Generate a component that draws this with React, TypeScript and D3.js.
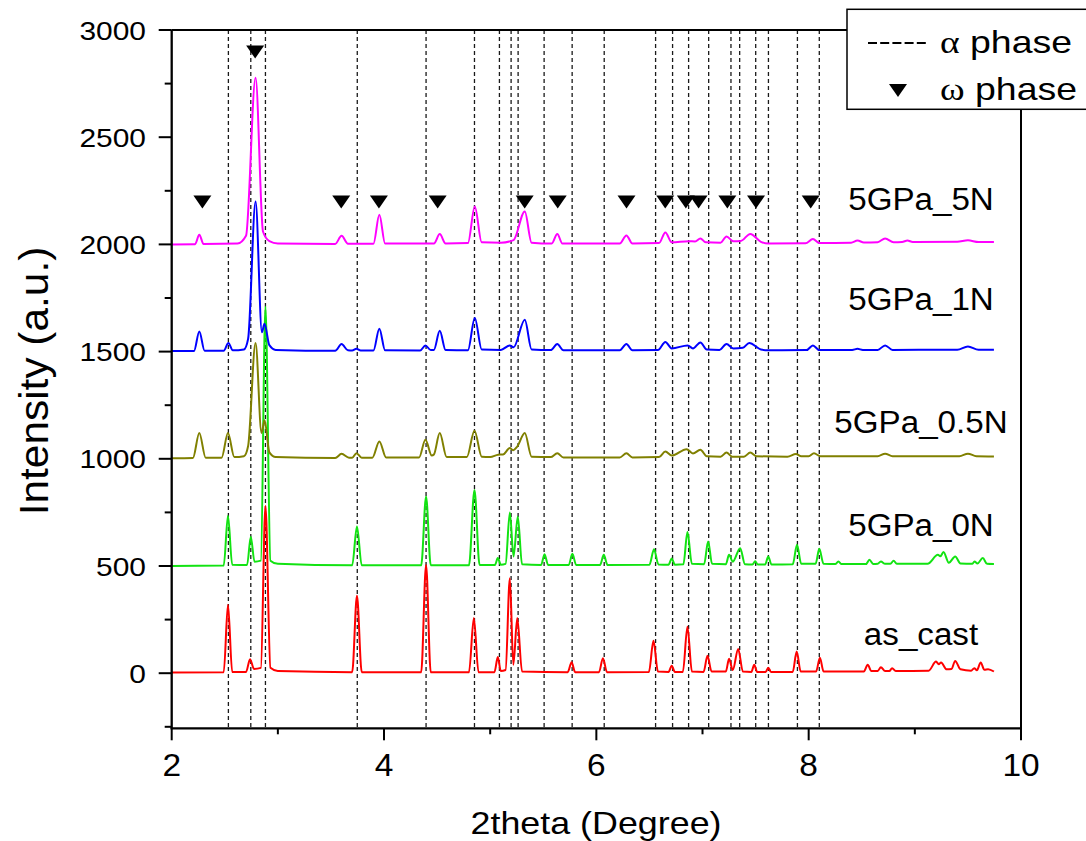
import React from 'react';
import * as d3 from 'd3';

// ---------------- data ----------------
const xTickValues = [2, 4, 6, 8, 10];
const yTickValues = [0, 500, 1000, 1500, 2000, 2500, 3000];

const seriesNames = ['as_cast', '5GPa_0N', '5GPa_0.5N', '5GPa_1N', '5GPa_5N'];
const seriesColors = ['#ff0000', '#12e312', '#808000', '#0000ff', '#ff00ff'];

const asCast: [number, number][] = [
  [2.0, 3], [2.49, 5], [2.53, 319], [2.57, 6], [2.70, 6], [2.738, 65], [2.775, 20], [2.84, 25],
  [2.883, 780], [2.93, 25], [3.0, 10], [3.70, 5], [3.745, 361], [3.79, 5], [4.35, 5], [4.396, 505],
  [4.44, 5], [4.80, 4], [4.846, 257], [4.89, 5], [5.04, 5], [5.072, 75], [5.10, 10], [5.145, 15],
  [5.185, 443], [5.218, 39], [5.255, 257], [5.30, 8], [5.73, 5], [5.767, 51], [5.80, 5], [6.025, 5],
  [6.062, 70], [6.10, 5], [6.495, 6], [6.538, 151], [6.58, 8], [6.68, 6], [6.71, 35], [6.74, 6],
  [6.815, 6], [6.858, 217], [6.90, 8], [7.01, 6], [7.047, 81], [7.085, 8], [7.22, 8], [7.25, 67],
  [7.285, 15], [7.336, 113], [7.38, 8], [7.46, 6], [7.487, 39], [7.515, 6], [7.595, 6], [7.619, 26],
  [7.645, 6], [7.85, 6], [7.887, 101], [7.925, 8], [8.07, 8], [8.106, 72], [8.14, 8], [8.52, 8],
  [8.556, 39], [8.59, 10], [8.65, 10], [8.68, 28], [8.72, 10], [8.76, 10], [8.786, 23], [8.82, 10],
  [9.13, 12], [9.2, 54], [9.225, 42], [9.247, 50], [9.30, 18], [9.345, 20], [9.38, 57], [9.43, 18],
  [9.53, 12], [9.56, 23], [9.585, 14], [9.62, 50], [9.655, 16], [9.69, 19], [9.745, 8],
];

const gpa0N: [number, number][] = [
  [2.0, 500], [2.49, 502], [2.53, 734], [2.57, 506], [2.71, 505], [2.745, 637], [2.78, 520], [2.84, 525],
  [2.883, 1710], [2.93, 525], [3.0, 510], [3.70, 503], [3.745, 684], [3.79, 503], [4.35, 503], [4.396, 824],
  [4.44, 504], [4.80, 503], [4.852, 855], [4.90, 505], [5.045, 505], [5.072, 537], [5.10, 506], [5.145, 510],
  [5.185, 750], [5.22, 544], [5.26, 731], [5.30, 508], [5.48, 505], [5.512, 555], [5.545, 505], [5.74, 505],
  [5.774, 557], [5.81, 505], [6.035, 505], [6.07, 552], [6.105, 505], [6.50, 506], [6.543, 578], [6.585, 507],
  [6.68, 506], [6.71, 535], [6.74, 506], [6.82, 508], [6.858, 658], [6.90, 510], [7.015, 508], [7.053, 614],
  [7.09, 510], [7.22, 508], [7.25, 552], [7.285, 520], [7.355, 583], [7.40, 508], [7.47, 507], [7.496, 522],
  [7.52, 507], [7.59, 507], [7.619, 544], [7.65, 507], [7.85, 508], [7.89, 599], [7.93, 510], [8.065, 510],
  [8.10, 580], [8.14, 510], [8.25, 509], [8.28, 521], [8.31, 509], [8.54, 509], [8.572, 529], [8.61, 509],
  [8.65, 510], [8.68, 521], [8.72, 510], [8.77, 510], [8.80, 525], [8.83, 510], [9.12, 510], [9.217, 552],
  [9.24, 545], [9.27, 565], [9.32, 515], [9.38, 544], [9.43, 512], [9.54, 510], [9.562, 521], [9.59, 512],
  [9.64, 537], [9.68, 510], [9.745, 509],
];

const gpa05N: [number, number][] = [
  [2.0, 1003], [2.20, 1004], [2.26, 1120], [2.32, 1005], [2.47, 1005], [2.53, 1120], [2.59, 1008],
  [2.68, 1012], [2.72, 1060], [2.79, 1540], [2.846, 1120], [2.875, 1180], [2.92, 1030], [2.98, 1008],
  [3.54, 1004], [3.60, 1023], [3.67, 1005], [3.70, 1005], [3.74, 1026], [3.79, 1005], [3.89, 1005],
  [3.956, 1081], [4.02, 1006], [4.33, 1006], [4.39, 1089], [4.45, 1015], [4.47, 1020], [4.525, 1120],
  [4.59, 1008], [4.78, 1008], [4.852, 1131], [4.92, 1010], [5.0, 1008], [5.075, 1019], [5.12, 1020],
  [5.185, 1050], [5.215, 1040], [5.255, 1057], [5.326, 1120], [5.39, 1010], [5.57, 1008], [5.632, 1026],
  [5.69, 1006], [6.22, 1006], [6.283, 1026], [6.34, 1006], [6.59, 1008], [6.65, 1034], [6.71, 1015],
  [6.85, 1045], [6.91, 1025], [6.98, 1042], [7.04, 1012], [7.17, 1010], [7.226, 1029], [7.28, 1010],
  [7.39, 1010], [7.45, 1029], [7.51, 1012], [7.80, 1010], [7.88, 1022], [7.93, 1012], [8.0, 1012],
  [8.05, 1026], [8.11, 1012], [8.65, 1012], [8.72, 1024], [8.79, 1012], [9.42, 1012], [9.50, 1024],
  [9.58, 1012], [9.745, 1011],
];

const gpa1N: [number, number][] = [
  [2.0, 1503], [2.21, 1503], [2.26, 1594], [2.31, 1504], [2.49, 1504], [2.534, 1540], [2.575, 1506],
  [2.68, 1510], [2.72, 1560], [2.79, 2200], [2.85, 1590], [2.874, 1630], [2.92, 1530], [2.98, 1508],
  [3.54, 1504], [3.60, 1535], [3.66, 1506], [3.70, 1505], [3.74, 1513], [3.78, 1505], [3.90, 1505],
  [3.956, 1607], [4.01, 1506], [4.34, 1505], [4.39, 1529], [4.44, 1507], [4.47, 1508], [4.525, 1597],
  [4.58, 1507], [4.79, 1506], [4.855, 1657], [4.92, 1510], [5.10, 1508], [5.185, 1529], [5.22, 1520],
  [5.326, 1649], [5.39, 1510], [5.57, 1507], [5.632, 1535], [5.69, 1506], [6.22, 1506], [6.283, 1535],
  [6.34, 1506], [6.58, 1507], [6.65, 1545], [6.71, 1515], [6.86, 1529], [6.91, 1515], [6.98, 1543],
  [7.04, 1510], [7.16, 1508], [7.226, 1535], [7.29, 1515], [7.38, 1518], [7.44, 1540], [7.55, 1510],
  [7.62, 1506], [7.98, 1507], [8.04, 1529], [8.10, 1507], [8.41, 1508], [8.46, 1513], [8.51, 1508],
  [8.65, 1508], [8.72, 1529], [8.79, 1508], [9.40, 1509], [9.50, 1524], [9.60, 1509], [9.745, 1509],
];

const gpa5N: [number, number][] = [
  [2.0, 2000], [2.22, 2001], [2.26, 2045], [2.30, 2002], [2.62, 2004], [2.70, 2040], [2.79, 2777],
  [2.86, 2060], [2.92, 2015], [3.0, 2004], [3.54, 2002], [3.60, 2040], [3.66, 2003], [3.90, 2003],
  [3.956, 2138], [4.01, 2004], [4.47, 2004], [4.525, 2048], [4.58, 2004], [4.79, 2006], [4.855, 2177],
  [4.92, 2010], [5.10, 2008], [5.22, 2020], [5.326, 2154], [5.39, 2008], [5.58, 2004], [5.632, 2049],
  [5.68, 2004], [6.22, 2004], [6.283, 2042], [6.34, 2004], [6.59, 2006], [6.65, 2056], [6.71, 2010],
  [6.87, 2015], [6.93, 2014], [6.98, 2028], [7.03, 2010], [7.17, 2008], [7.226, 2037], [7.29, 2015],
  [7.36, 2016], [7.45, 2049], [7.55, 2012], [7.62, 2004], [7.97, 2005], [8.04, 2025], [8.10, 2006],
  [8.40, 2008], [8.46, 2018], [8.52, 2009], [8.65, 2010], [8.72, 2028], [8.80, 2010], [8.88, 2011],
  [8.93, 2018], [8.98, 2011], [9.40, 2012], [9.50, 2019], [9.60, 2011], [9.745, 2011],
];

const seriesData = [asCast, gpa0N, gpa05N, gpa1N, gpa5N];

// series label anchor values (data units)
const labelValues = [130, 640, 1120, 1695, 2160];

// alpha phase reference lines
const alphaPhase = [2.534, 2.745, 2.883, 3.748, 4.396, 4.852, 5.087, 5.197, 5.263, 5.508, 5.772, 6.074,
  6.558, 6.718, 6.869, 7.058, 7.268, 7.350, 7.501, 7.621, 7.894, 8.10];

// omega phase markers
const omegaX = [2.289, 2.786, 3.597, 3.952, 4.505, 5.325, 5.636, 6.284, 6.649, 6.843, 6.963, 7.234, 7.504, 8.019];
const omegaY = [2200, 2900, 2200, 2200, 2200, 2200, 2200, 2200, 2200, 2200, 2200, 2200, 2200, 2200];

// ---------------- layout ----------------
const W = 1086;
const H = 841;
const X_LEFT = 171.7;
const X_RIGHT = 1021;
const Y_TOP = 30;
const Y_BOTTOM = 728.3;

const FONT = "'Liberation Sans', Arial, Helvetica, sans-serif";
const SERIF = "'Liberation Serif', 'Times New Roman', serif";

export default function App() {
  const x = d3.scaleLinear().domain([2, 10]).range([X_LEFT, X_RIGHT]);
  const y = d3.scaleLinear().domain([-257, 3000]).range([Y_BOTTOM, Y_TOP]);

  const line = d3
    .line<[number, number]>()
    .x((d) => x(d[0]))
    .y((d) => y(d[1]))
    .curve(d3.curveMonotoneX);

  const xMinor = d3.range(3, 10, 2);
  const yMinor = d3.range(-250, 3000, 250).filter((v) => v % 500 !== 0);

  const tri = (cx: number, cy: number) =>
    `M${cx - 9},${cy - 6}L${cx + 9},${cy - 6}L${cx},${cy + 7}Z`;

  return (
    <svg
      width={W}
      height={H}
      style={{ position: 'absolute', left: 0, top: 0, background: '#fff' }}
      fontFamily={FONT}
    >
      <rect x={0} y={0} width={W} height={H} fill="#fff" />

      {/* alpha dashed lines */}
      {alphaPhase.map((a, i) => (
        <line
          key={'a' + i}
          x1={x(a)}
          x2={x(a)}
          y1={Y_TOP}
          y2={Y_BOTTOM}
          stroke="#1a1a1a"
          strokeWidth={1.3}
          strokeDasharray="4,3"
        />
      ))}

      {/* series */}
      {seriesData.map((s, i) => (
        <path
          key={'s' + i}
          d={line(s) || ''}
          fill="none"
          stroke={seriesColors[i]}
          strokeWidth={2}
          strokeLinejoin="round"
        />
      ))}

      {/* omega markers */}
      {omegaX.map((o, i) => (
        <path key={'o' + i} d={tri(x(o), y(omegaY[i]))} fill="#000" />
      ))}

      {/* series labels */}
      {seriesNames.map((n, i) => (
        <g key={'l' + i} transform={`translate(921,${y(labelValues[i])}) scale(1.07,1)`}>
          <text textAnchor="middle" fontSize={31} fill="#000">
            {n}
          </text>
        </g>
      ))}

      {/* frame */}
      <line x1={X_LEFT} x2={X_RIGHT} y1={Y_TOP} y2={Y_TOP} stroke="#000" strokeWidth={2} />
      <line x1={X_RIGHT} x2={X_RIGHT} y1={Y_TOP} y2={Y_BOTTOM} stroke="#000" strokeWidth={2} />
      <line x1={X_LEFT} x2={X_LEFT} y1={Y_TOP} y2={Y_BOTTOM + 1} stroke="#000" strokeWidth={2.3} />
      <line x1={X_LEFT - 1} x2={X_RIGHT + 1} y1={Y_BOTTOM} y2={Y_BOTTOM} stroke="#000" strokeWidth={2.3} />

      {/* y ticks */}
      {yTickValues.map((v) => (
        <g key={'yt' + v}>
          <line x1={X_LEFT - 13} x2={X_LEFT} y1={y(v)} y2={y(v)} stroke="#000" strokeWidth={2} />
          <g transform={`translate(146,${y(v)}) scale(1.13,1)`}>
            <text textAnchor="end" dy="0.36em" fontSize={26.5} fill="#000">
              {v}
            </text>
          </g>
        </g>
      ))}
      {yMinor.map((v) => (
        <line key={'ym' + v} x1={X_LEFT - 7} x2={X_LEFT} y1={y(v)} y2={y(v)} stroke="#000" strokeWidth={2} />
      ))}

      {/* x ticks */}
      {xTickValues.map((v) => (
        <g key={'xt' + v}>
          <line x1={x(v)} x2={x(v)} y1={Y_BOTTOM} y2={Y_BOTTOM + 12} stroke="#000" strokeWidth={2} />
          <g transform={`translate(${x(v)},776) scale(1.08,1)`}>
            <text textAnchor="middle" fontSize={31} fill="#000">
              {v}
            </text>
          </g>
        </g>
      ))}
      {xMinor.map((v) => (
        <line key={'xm' + v} x1={x(v)} x2={x(v)} y1={Y_BOTTOM} y2={Y_BOTTOM + 6} stroke="#000" strokeWidth={2} />
      ))}

      {/* axis titles */}
      <g transform={`translate(596,834) scale(1.12,1)`}>
        <text textAnchor="middle" fontSize={32} fill="#000">
          2theta (Degree)
        </text>
      </g>
      <g transform={`translate(48,381) rotate(-90) scale(1.06,1)`}>
        <text textAnchor="middle" fontSize={40} fill="#000">
          Intensity (a.u.)
        </text>
      </g>

      {/* legend */}
      <rect x={847} y={9.3} width={260} height={100} fill="#fff" stroke="#000" strokeWidth={1.5} />
      <line x1={868} x2={929} y1={43} y2={43} stroke="#000" strokeWidth={2} strokeDasharray="9,3.2" />
      <g transform="translate(940,53) scale(1.17,1)">
        <text x={0} y={0} fontSize={32} fill="#000">
          <tspan fontFamily={SERIF}>α</tspan>
          <tspan> phase</tspan>
        </text>
      </g>
      <path d={tri(898, 90)} fill="#000" />
      <g transform="translate(940,100) scale(1.17,1)">
        <text x={0} y={0} fontSize={32} fill="#000">
          <tspan fontFamily={SERIF}>ω</tspan>
          <tspan> phase</tspan>
        </text>
      </g>
    </svg>
  );
}
